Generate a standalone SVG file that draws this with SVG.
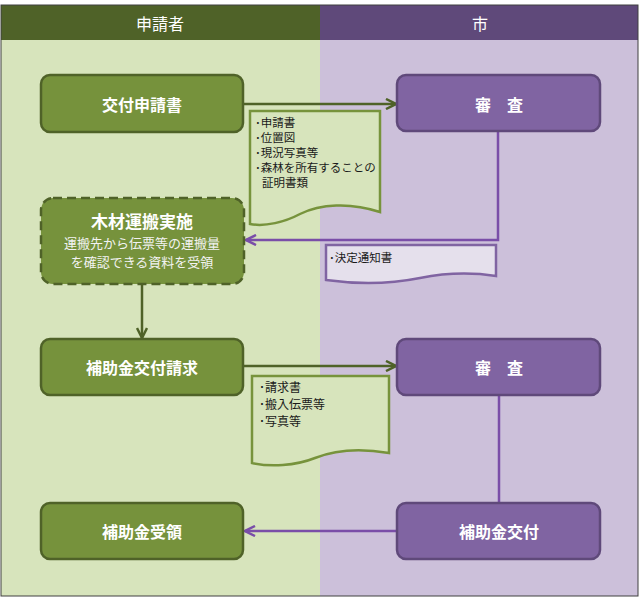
<svg xmlns="http://www.w3.org/2000/svg" width="640" height="600" viewBox="0 0 640 600">
<defs>
<style>
text{font-family:"Noto Sans CJK JP","Noto Sans",sans-serif}
.hd{fill:#fff;font-size:16px;text-anchor:middle;dominant-baseline:central}
.gn{fill:#76923c;stroke:#4f6228;stroke-width:2.5}
.pn{fill:#8064a2;stroke:#5f497a;stroke-width:2.5}
.nt{fill:#fff;font-size:16px;font-weight:bold;text-anchor:middle;dominant-baseline:central}
.st{fill:#f2f2f2;font-size:13px;text-anchor:middle;dominant-baseline:central}
.dg{fill:#d7e4bc;stroke:#77933c;stroke-width:2.5}
.dp{fill:#e5e0ec;stroke:#8064a2;stroke-width:2.5}
.dt{fill:#1a1a1a;font-size:11.5px}
.cg{fill:none;stroke:#4f6228;stroke-width:2.5}
.cp{fill:none;stroke:#7a4ea8;stroke-width:2.5}
</style>
<marker id="ag" viewBox="0 0 10 10" refX="9" refY="5" markerWidth="5" markerHeight="5" orient="auto" markerUnits="strokeWidth"><path d="M1,1 L9,5 L1,9" fill="none" stroke="#4f6228" stroke-width="2"/></marker>
<marker id="ap" viewBox="0 0 10 10" refX="9" refY="5" markerWidth="5" markerHeight="5" orient="auto" markerUnits="strokeWidth"><path d="M1,1 L9,5 L1,9" fill="none" stroke="#7a4ea8" stroke-width="2"/></marker>
</defs>
<g id="lanes">
<rect x="1" y="40" width="319" height="556" fill="#d7e4bc"/>
<rect x="320" y="40" width="318" height="556" fill="#ccc0da"/>
<rect x="1" y="5" width="319" height="35" fill="#4f6228"/>
<rect x="320" y="5" width="318" height="35" fill="#5f497a"/>
<rect x="1" y="5" width="637" height="591" fill="none" stroke="#404040" stroke-width="1"/>
<text class="hd" x="160" y="23">申請者</text>
<text class="hd" x="480" y="23">市</text>
</g>
<g id="connectors">
<line class="cg" x1="244" y1="104" x2="396" y2="104" marker-end="url(#ag)"/>
<polyline class="cp" points="498,132 498,240 246,240" marker-end="url(#ap)"/>
<line class="cg" x1="142" y1="285" x2="142" y2="338" marker-end="url(#ag)"/>
<line class="cg" x1="244" y1="366" x2="396" y2="366" marker-end="url(#ag)"/>
<line class="cp" x1="499" y1="396" x2="499" y2="503"/>
<line class="cp" x1="397" y1="531" x2="245" y2="531" marker-end="url(#ap)"/>
</g>
<g id="doc1">
<path class="dg" d="M250,111 H380 V212 C350,202 320,204 300,214 C285,222 265,227 250,224 Z"/>
<text class="dt" x="255" y="127">･申請書</text>
<text class="dt" x="255" y="142">･位置図</text>
<text class="dt" x="255" y="157">･現況写真等</text>
<text class="dt" x="255" y="172">･森林を所有することの</text>
<text class="dt" x="262" y="187">証明書類</text>
</g>
<g id="doc2">
<path class="dp" d="M326,245 H496 V276 C470,272 445,273 420,278 C390,284 355,284 326,280 Z"/>
<text class="dt" x="329" y="262">･決定通知書</text>
</g>
<g id="doc3">
<path class="dg" d="M252,376 H389 V453 C360,448 335,450 315,458 C295,466 270,467 252,463 Z"/>
<text class="dt" x="259" y="392" style="font-size:12px">･請求書</text>
<text class="dt" x="259" y="409" style="font-size:12px">･搬入伝票等</text>
<text class="dt" x="259" y="426" style="font-size:12px">･写真等</text>
</g>
<g id="n1"><rect class="gn" x="41" y="75" width="202" height="57" rx="9"/><text class="nt" x="142" y="104">交付申請書</text></g>
<g id="n2"><rect class="pn" x="397" y="75" width="203" height="56" rx="9"/><text class="nt" x="499" y="104">審　査</text></g>
<g id="n3"><rect class="gn" x="41" y="198" width="203" height="86" rx="12" stroke-dasharray="9,5"/>
<text class="nt" x="142" y="220" style="font-size:17px">木材運搬実施</text>
<text class="st" x="142" y="242">運搬先から伝票等の運搬量</text>
<text class="st" x="142" y="261">を確認できる資料を受領</text></g>
<g id="n4"><rect class="gn" x="41" y="339" width="202" height="56" rx="9"/><text class="nt" x="142" y="367">補助金交付請求</text></g>
<g id="n5"><rect class="pn" x="397" y="339" width="203" height="56" rx="9"/><text class="nt" x="499" y="367">審　査</text></g>
<g id="n6"><rect class="gn" x="41" y="503" width="202" height="56" rx="9"/><text class="nt" x="142" y="531">補助金受領</text></g>
<g id="n7"><rect class="pn" x="397" y="503" width="203" height="56" rx="9"/><text class="nt" x="499" y="531">補助金交付</text></g>
</svg>
